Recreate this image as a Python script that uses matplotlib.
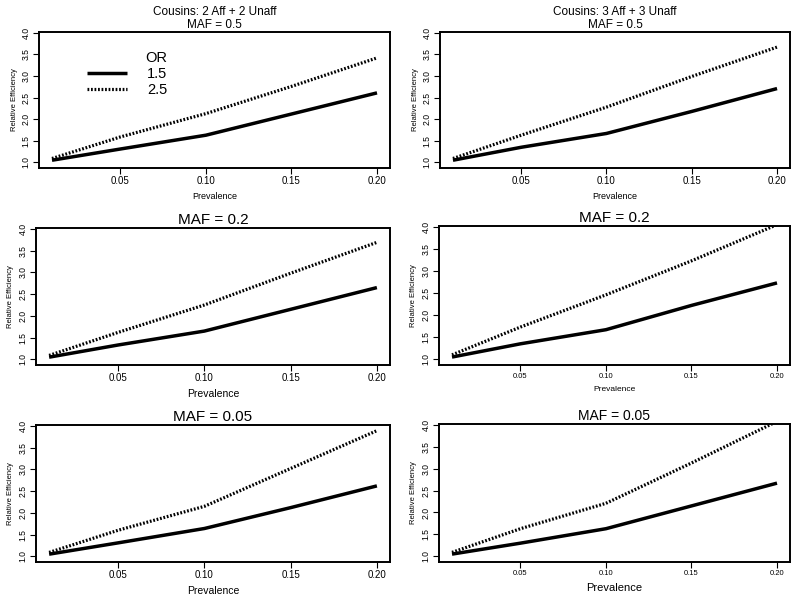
''' Relative efficiency vs prevalence for cousin designs,
three minor allele frequencies, two odds ratios.
'''

import numpy as np
import matplotlib
matplotlib.use('Agg')
import matplotlib.pyplot as plt

plt.rcParams['font.family'] = ['Liberation Sans', 'DejaVu Sans']

# ----------------------------------------------------------------------
# data
prevalence = [0.01, 0.05, 0.10, 0.15, 0.20]

# left column: 2 Aff + 2 Unaff
re_2_maf50_or15 = [1.05, 1.31, 1.63, 2.12, 2.61]
re_2_maf50_or25 = [1.09, 1.59, 2.13, 2.76, 3.42]
re_2_maf20_or15 = [1.05, 1.33, 1.65, 2.15, 2.65]
re_2_maf20_or25 = [1.09, 1.62, 2.25, 2.98, 3.69]
re_2_maf05_or15 = [1.05, 1.31, 1.64, 2.12, 2.62]
re_2_maf05_or25 = [1.09, 1.60, 2.15, 3.02, 3.89]

# right column: 3 Aff + 3 Unaff
re_3_maf50_or15 = [1.05, 1.35, 1.67, 2.18, 2.71]
re_3_maf50_or25 = [1.09, 1.63, 2.28, 2.99, 3.67]
re_3_maf20_or15 = [1.05, 1.35, 1.67, 2.22, 2.73]
re_3_maf20_or25 = [1.10, 1.73, 2.46, 3.23, 4.05]
re_3_maf05_or15 = [1.05, 1.30, 1.63, 2.15, 2.67]
re_3_maf05_or25 = [1.09, 1.63, 2.21, 3.13, 4.08]

titles = ['Cousins: 2 Aff + 2 Unaff\nMAF = 0.5', 'Cousins: 3 Aff + 3 Unaff\nMAF = 0.5',
          'MAF = 0.2', 'MAF = 0.2', 'MAF = 0.05', 'MAF = 0.05']
or_labels = ['1.5', '2.5']
xticks = [0.05, 0.10, 0.15, 0.20]
yticks = [1.0, 1.5, 2.0, 2.5, 3.0, 3.5, 4.0]

series = [(re_2_maf50_or15, re_2_maf50_or25), (re_3_maf50_or15, re_3_maf50_or25),
          (re_2_maf20_or15, re_2_maf20_or25), (re_3_maf20_or15, re_3_maf20_or25),
          (re_2_maf05_or15, re_2_maf05_or25), (re_3_maf05_or15, re_3_maf05_or25)]

# ----------------------------------------------------------------------
W, H = 800, 596
fig = plt.figure(figsize=(W / 100, H / 100), dpi=100)

# axes boxes in pixels: left, top, right, bottom
boxes = [(39, 32, 390, 168), (440, 32, 790, 168),
         (36, 228, 390, 365), (439, 226, 790, 365),
         (36, 425, 390, 562), (439, 424, 790, 562)]
title_sizes = [8.5, 8.5, 11, 11, 11, 10]
xtick_sizes = [7, 7, 7, 5.5, 7, 5.5]
xlab_sizes = [6.5, 6.5, 7.5, 6, 7.5, 8]

for i, (box, (solid, dotted)) in enumerate(zip(boxes, series)):
    l, t, r, b = box
    ax = fig.add_axes([l / W, 1 - b / H, (r - l) / W, (b - t) / H])
    ax.plot(prevalence, solid, color='black', lw=2.5, ls='-',
            solid_capstyle='butt', label=or_labels[0])
    ax.plot(prevalence, dotted, color='black', lw=2.3, ls=(0, (0.55, 0.55)),
            label=or_labels[1])
    ax.set_xlim(0.0024, 0.2076)
    ax.set_ylim(0.87, 4.02)
    ax.set_xticks(xticks)
    ax.set_xticklabels(['%.2f' % v for v in xticks], fontsize=xtick_sizes[i])
    ax.set_yticks(yticks)
    ax.set_yticklabels(['%.1f' % v for v in yticks], fontsize=6.2, rotation=90,
                       va='center')
    ax.tick_params(direction='out', length=4, width=0.8, pad=2)
    for s in ax.spines.values():
        s.set_linewidth(1.4)
    ax.set_xlabel('Prevalence', fontsize=xlab_sizes[i], labelpad=4)
    ax.set_ylabel('Relative Efficiency', fontsize=5.5, labelpad=3)
    ax.set_title(titles[i], fontsize=title_sizes[i], pad=3, linespacing=1.1)
    if i == 0:
        ax.legend(title='OR', loc='upper left', bbox_to_anchor=(0.1, 0.96),
                  frameon=False, fontsize=10.5, title_fontsize=10.5,
                  handlelength=2.7, handletextpad=1.4, labelspacing=0.15,
                  alignment='right')

fig.savefig('out.png', dpi=100)
